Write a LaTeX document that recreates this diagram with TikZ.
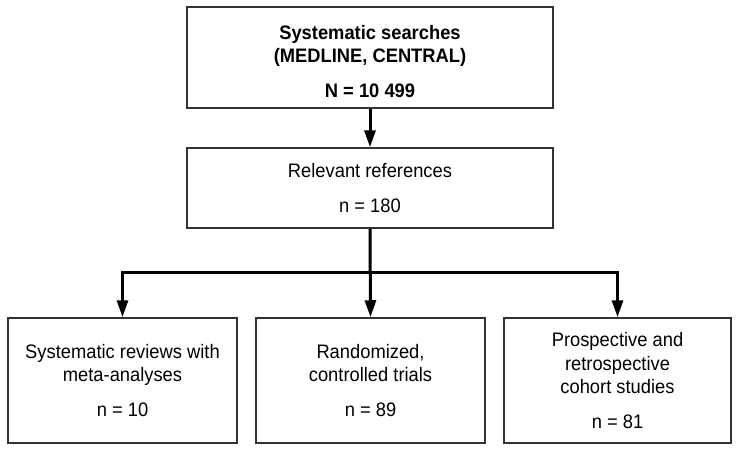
\documentclass[tikz,border=0pt]{standalone}
\usepackage{fontspec}
\setmainfont[FakeStretch=0.94]{Liberation Sans}
\usetikzlibrary{arrows.meta}
\tikzset{
  box/.style={draw=black!80, line width=1.5pt, fill=white, inner sep=0pt, align=center,
    font=\fontsize{19.5}{23.5}\selectfont},
  flow/.style={line width=3pt, -{Triangle[length=17pt,width=11pt]}},
}
\begin{document}
\begin{tikzpicture}[x=1pt,y=-1pt]
\useasboundingbox (0,0) rectangle (738,452);
\node[box, minimum width=366pt, minimum height=101pt] (search) at (370,57.5)
  {\rule{0pt}{22pt}\textbf{Systematic searches}\\\textbf{(MEDLINE, CENTRAL)}\\[11pt]\textbf{N = 10 499}};
\node[box, minimum width=366pt, minimum height=80pt] (rel) at (370,188)
  {Relevant references\\[12pt]n = 180};
\node[box, minimum width=229pt, minimum height=125pt] (sr) at (122.5,380.5)
  {Systematic reviews with\\meta-analyses\\[11pt]n = 10};
\node[box, minimum width=229pt, minimum height=125pt] (rct) at (370.5,380.5)
  {Randomized,\\controlled trials\\[11pt]n = 89};
\node[box, minimum width=227pt, minimum height=125pt] (coh) at (617.5,380.5)
  {Prospective and\\retrospective\\cohort studies\\[11pt]n = 81};
\coordinate (split) at (370,272);
\draw[flow] (search.south) -- (rel.north);
\draw[flow] (rel.south) -- (rct.north);
\draw[flow] (split) -| (sr.north);
\draw[flow] (split) -| (coh.north);
\end{tikzpicture}
\end{document}
